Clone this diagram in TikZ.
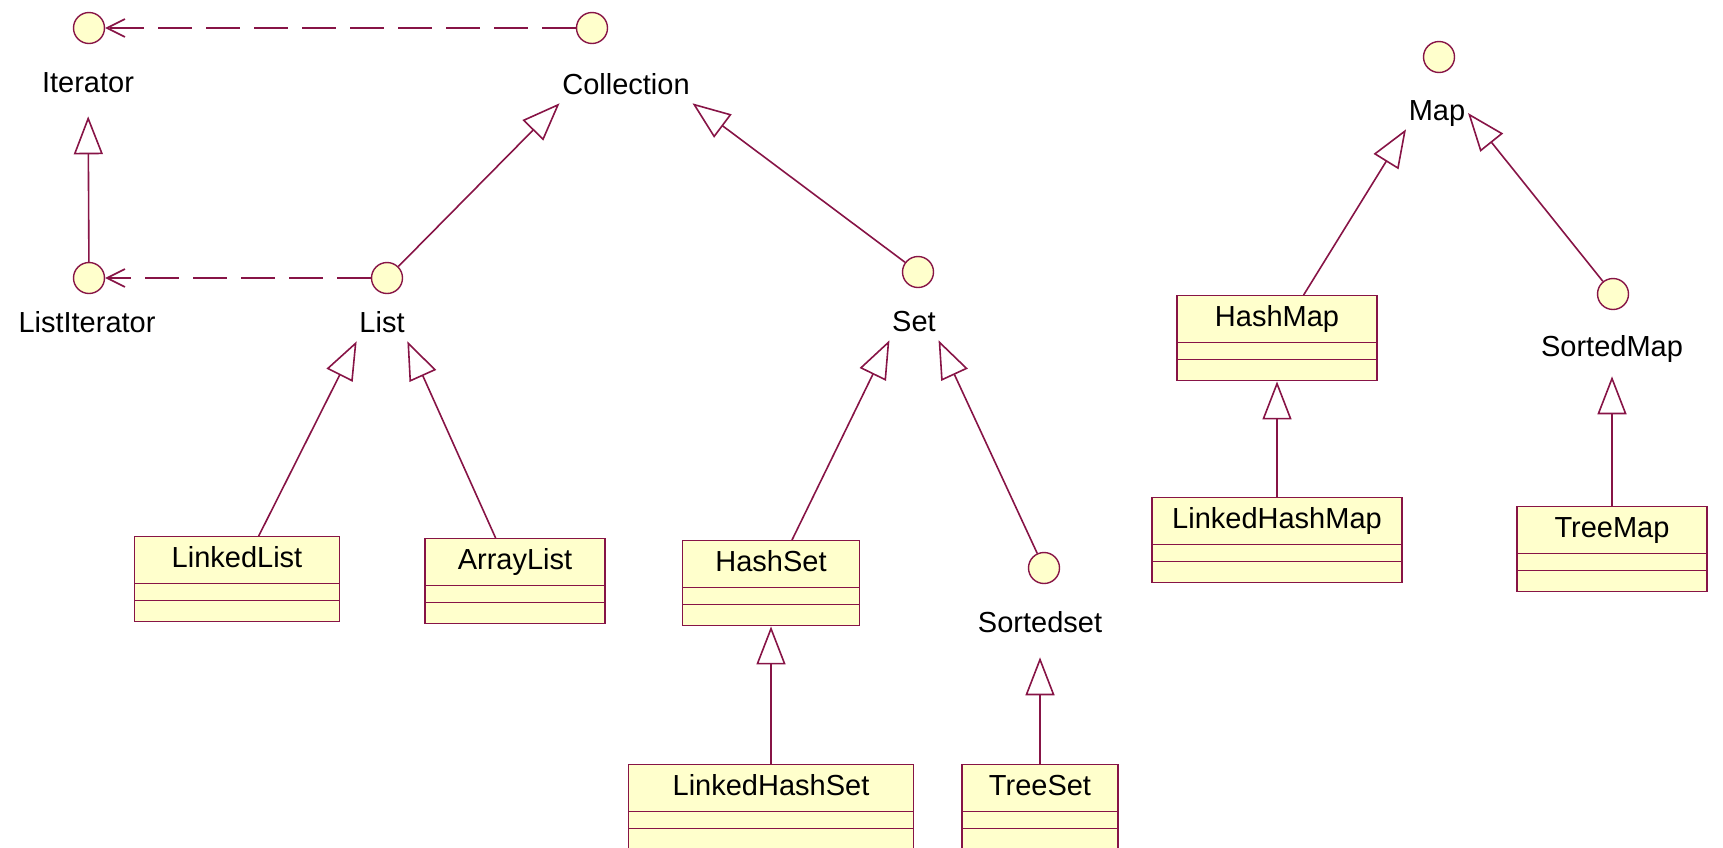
\documentclass[tikz,border=0pt]{standalone}
\usepackage{fontspec}
\setmainfont{Liberation Sans}
\usetikzlibrary{arrows.meta}
\definecolor{roseline}{RGB}{135,20,70}
\definecolor{rosefill}{RGB}{255,255,204}

\begin{document}
\begin{tikzpicture}[x=1pt, y=-1pt, line width=1.6pt, font=\fontsize{29}{34}\selectfont,
	iface/.style={circle, draw=roseline, fill=rosefill, minimum size=31pt, inner sep=0pt, line width=1.4pt},
	iname/.style={inner sep=2pt, text height=21pt, text depth=6pt},
	cls/.style={rectangle, draw=roseline, fill=rosefill, anchor=north, line width=1.4pt,
		inner xsep=2pt, inner ysep=10pt, text height=21pt, text depth=44pt,
		path picture={\draw[roseline, line width=1.4pt]
			([yshift=-47pt]path picture bounding box.north west) -- ([yshift=-47pt]path picture bounding box.north east)
			([yshift=-64pt]path picture bounding box.north west) -- ([yshift=-64pt]path picture bounding box.north east);}},
	gen/.style={color=roseline, -{Triangle[open, length=38pt, width=29pt]}},
	dep/.style={color=roseline, dash pattern=on 34pt off 14pt, -{Straight Barb[length=18pt, width=18pt]}}]
	\useasboundingbox (0,0) rectangle (1723,847);
	\node[iface] (It) at (89,28) {};
	\node[iname] (ItN) at (88,85) {Iterator};
	\node[iface] (Co) at (592,28) {};
	\node[iname] (CoN) at (626,87) {Collection};
	\node[iface] (LI) at (89,278) {};
	\node[iname] (LIN) at (87,325) {ListIterator};
	\node[iface] (Li) at (387,278) {};
	\node[iname] (LiN) at (382,325) {List};
	\node[iface] (Se) at (918,272) {};
	\node[iname] (SeN) at (914,324) {Set};
	\node[iface] (SS) at (1044,568) {};
	\node[iname] (SSN) at (1040,625) {Sortedset};
	\node[iface] (Ma) at (1439,57) {};
	\node[iname] (MaN) at (1437,113) {Map};
	\node[iface] (SM) at (1613,294) {};
	\node[iname] (SMN) at (1612,349) {SortedMap};
	\node[cls, minimum width=205pt] (LL) at (237,536) {LinkedList};
	\node[cls, minimum width=180pt] (AL) at (515,538) {ArrayList};
	\node[cls, minimum width=177pt] (HS) at (771,540) {HashSet};
	\node[cls, minimum width=285pt] (LHS) at (771,764) {LinkedHashSet};
	\node[cls, minimum width=156pt] (TS) at (1040,764) {TreeSet};
	\node[cls, minimum width=200pt] (HM) at (1277,295) {HashMap};
	\node[cls, minimum width=250pt] (LHM) at (1277,497) {LinkedHashMap};
	\node[cls, minimum width=190pt] (TM) at (1612,506) {TreeMap};
	\draw[dep] (Co) to (It);
	\draw[dep] (Li) to (LI);
	\draw[gen, shorten >=15pt] (LI) to (ItN);
	\draw[gen] (Li) to (CoN.south west);
	\draw[gen] (Se) to (CoN.south east);
	\draw[gen] (LL) to (LiN.south west);
	\draw[gen] (AL) to (LiN.south east);
	\draw[gen] (HS) to (SeN.south west);
	\draw[gen] (SS) to (SeN.south east);
	\draw[gen] (LHS) to (HS);
	\draw[gen, shorten >=16pt] (TS) to (SSN);
	\draw[gen] (HM) to (MaN.south west);
	\draw[gen] (SM) to (MaN.east);
	\draw[gen] (LHM) to (HM);
	\draw[gen, shorten >=11pt] (TM) to (SMN);
\end{tikzpicture}
\end{document}
